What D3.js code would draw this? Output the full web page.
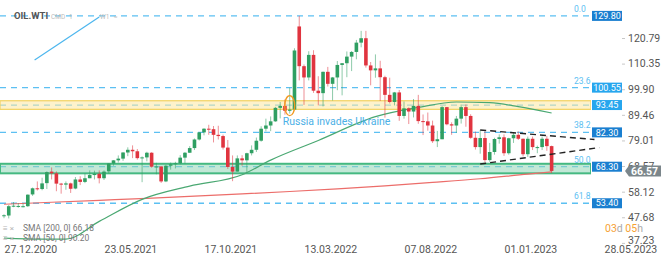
<!DOCTYPE html>
<html>
<head>
<meta charset="utf-8">
<script src="https://cdn.jsdelivr.net/npm/d3@7"></script>
<style>
  body { margin: 0; background: #fff; }
  svg { display: block; font-family: Roboto, sans-serif; }
</style>
</head>
<body>
<div id="chart"></div>
<script>
// weekly candles: date, open, high, low, close
const candles = [
  ['2020-12-27', 48.3, 48.9, 47.3, 48.5], ['2021-01-03', 48.4, 52.7, 47.2, 52.2],
  ['2021-01-10', 52.2, 53.9, 51.8, 52.4], ['2021-01-17', 52.3, 53.5, 51.6, 52.3],
  ['2021-01-24', 52.2, 53.3, 51.7, 52.2], ['2021-01-31', 52.2, 57.0, 51.9, 56.9],
  ['2021-02-07', 57.0, 59.8, 56.4, 59.5], ['2021-02-14', 59.5, 62.3, 58.6, 59.2],
  ['2021-02-21', 59.2, 63.8, 58.7, 61.5], ['2021-02-28', 61.6, 66.4, 59.2, 66.1],
  ['2021-03-07', 66.3, 68.0, 63.1, 65.6], ['2021-03-14', 65.6, 66.4, 58.3, 61.4],
  ['2021-03-21', 61.4, 61.7, 57.3, 61.0], ['2021-03-28', 61.0, 62.3, 58.9, 61.5],
  ['2021-04-04', 61.5, 61.8, 57.6, 59.3], ['2021-04-11', 59.4, 64.1, 59.1, 63.1],
  ['2021-04-18', 63.1, 64.4, 60.8, 62.1], ['2021-04-25', 62.1, 65.5, 61.6, 63.6],
  ['2021-05-02', 63.6, 66.8, 63.6, 64.9], ['2021-05-09', 64.9, 66.7, 63.1, 65.4],
  ['2021-05-16', 65.4, 66.8, 61.5, 63.6], ['2021-05-23', 63.6, 66.8, 62.9, 66.3],
  ['2021-05-30', 66.4, 69.8, 65.6, 69.6], ['2021-06-06', 69.6, 71.0, 68.7, 70.9],
  ['2021-06-13', 70.9, 72.9, 70.0, 71.6], ['2021-06-20', 71.6, 74.2, 70.7, 74.1],
  ['2021-06-27', 74.1, 76.2, 72.6, 75.2], ['2021-07-04', 75.2, 77.0, 71.8, 74.6],
  ['2021-07-11', 74.6, 75.5, 71.2, 71.8], ['2021-07-18', 71.8, 72.5, 62.0, 72.1],
  ['2021-07-25', 72.1, 74.4, 70.5, 74.0], ['2021-08-01', 74.0, 74.2, 67.9, 68.3],
  ['2021-08-08', 68.3, 69.9, 65.2, 68.4], ['2021-08-15', 68.4, 68.5, 61.7, 62.3],
  ['2021-08-22', 62.3, 69.1, 62.0, 68.7], ['2021-08-29', 68.7, 70.0, 67.1, 69.3],
  ['2021-09-05', 69.3, 70.3, 67.6, 69.7], ['2021-09-12', 69.7, 73.0, 69.3, 72.0],
  ['2021-09-19', 72.0, 74.3, 69.6, 74.0], ['2021-09-26', 74.0, 76.7, 73.9, 75.9],
  ['2021-10-03', 75.9, 79.8, 75.1, 79.4], ['2021-10-10', 79.4, 82.4, 79.0, 82.3],
  ['2021-10-17', 82.3, 84.0, 81.1, 83.8], ['2021-10-24', 83.8, 85.4, 81.3, 83.6],
  ['2021-10-31', 83.6, 84.9, 78.2, 81.3], ['2021-11-07', 81.3, 85.0, 79.4, 80.8],
  ['2021-11-14', 80.8, 81.4, 75.3, 76.1], ['2021-11-21', 76.1, 79.2, 67.4, 68.2],
  ['2021-11-28', 68.2, 72.9, 62.4, 66.3], ['2021-12-05', 66.3, 72.9, 66.3, 71.7],
  ['2021-12-12', 71.7, 73.0, 68.7, 70.9], ['2021-12-19', 70.9, 74.0, 66.0, 73.8],
  ['2021-12-26', 73.8, 77.0, 72.9, 75.2], ['2022-01-02', 75.2, 80.2, 74.3, 78.9],
  ['2022-01-09', 78.9, 84.8, 78.5, 83.8], ['2022-01-16', 83.8, 87.9, 82.7, 85.1],
  ['2022-01-23', 85.1, 88.8, 82.8, 86.8], ['2022-01-30', 86.8, 92.7, 86.6, 92.3],
  ['2022-02-06', 92.3, 94.7, 88.0, 93.1], ['2022-02-13', 93.1, 95.8, 89.5, 91.1],
  ['2022-02-20', 91.1, 100.5, 90.0, 91.6], ['2022-02-27', 91.6, 116.6, 91.5, 115.7],
  ['2022-03-06', 125.5, 129.8, 103.5, 109.3], ['2022-03-13', 109.3, 110.0, 93.5, 104.7],
  ['2022-03-20', 104.7, 115.4, 103.5, 113.9], ['2022-03-27', 113.9, 115.8, 98.4, 99.3],
  ['2022-04-03', 99.3, 105.2, 93.3, 98.3], ['2022-04-10', 98.3, 107.1, 92.9, 107.0],
  ['2022-04-17', 107.0, 109.0, 101.0, 102.1], ['2022-04-24', 102.1, 104.9, 95.3, 104.7],
  ['2022-05-01', 104.7, 111.4, 99.5, 109.8], ['2022-05-08', 109.8, 110.6, 97.4, 110.5],
  ['2022-05-15', 110.5, 115.3, 104.8, 113.2], ['2022-05-22', 113.2, 115.5, 107.3, 115.1],
  ['2022-05-29', 115.1, 120.0, 112.1, 118.9], ['2022-06-05', 118.9, 123.7, 117.0, 120.7],
  ['2022-06-12', 120.7, 123.7, 108.7, 109.6], ['2022-06-19', 109.6, 111.0, 101.5, 107.6],
  ['2022-06-26', 107.6, 114.1, 104.6, 108.4], ['2022-07-03', 108.4, 111.5, 95.1, 104.8],
  ['2022-07-10', 104.8, 105.4, 88.3, 97.6], ['2022-07-17', 97.6, 104.6, 94.1, 94.7],
  ['2022-07-24', 94.7, 98.8, 93.3, 98.6], ['2022-07-31', 98.6, 99.6, 87.0, 89.0],
  ['2022-08-07', 89.0, 94.9, 87.9, 92.1], ['2022-08-14', 92.1, 92.5, 85.7, 90.8],
  ['2022-08-21', 90.8, 95.9, 88.4, 93.1], ['2022-08-28', 93.1, 97.6, 85.8, 86.9],
  ['2022-09-04', 86.9, 89.6, 81.2, 86.8], ['2022-09-11', 86.8, 90.4, 83.0, 85.1],
  ['2022-09-18', 85.1, 87.1, 78.0, 78.7], ['2022-09-25', 78.7, 82.9, 76.3, 79.5],
  ['2022-10-02', 79.5, 93.0, 79.5, 92.6], ['2022-10-09', 92.6, 92.6, 85.2, 85.6],
  ['2022-10-16', 85.6, 86.4, 81.3, 85.1], ['2022-10-23', 85.1, 89.0, 82.1, 87.9],
  ['2022-10-30', 87.9, 93.7, 85.9, 92.6], ['2022-11-06', 92.6, 93.7, 84.6, 89.0],
  ['2022-11-13', 89.0, 89.7, 79.7, 80.1], ['2022-11-20', 80.1, 82.6, 75.3, 76.3],
  ['2022-11-27', 76.3, 83.3, 73.6, 80.0], ['2022-12-04', 80.0, 82.7, 70.1, 71.0],
  ['2022-12-11', 71.0, 78.0, 70.3, 74.3], ['2022-12-18', 74.3, 80.1, 73.2, 79.6],
  ['2022-12-25', 79.6, 81.5, 77.7, 80.3], ['2023-01-01', 80.3, 81.5, 72.7, 73.8],
  ['2023-01-08', 73.8, 80.1, 73.2, 79.9], ['2023-01-15', 79.9, 82.4, 78.0, 81.3],
  ['2023-01-22', 81.3, 82.7, 79.2, 79.7], ['2023-01-29', 79.7, 79.8, 72.5, 73.4],
  ['2023-02-05', 73.4, 80.6, 72.3, 79.7], ['2023-02-12', 79.7, 80.6, 75.1, 76.3],
  ['2023-02-19', 76.3, 76.9, 73.8, 76.3], ['2023-02-26', 76.3, 80.6, 75.1, 79.7],
  ['2023-03-05', 79.7, 80.9, 74.8, 76.7], ['2023-03-12', 76.7, 76.9, 65.7, 66.57],
]

// moving averages
const sma200Dates = ['2020-12-27', '2021-03-07', '2021-05-16', '2021-07-25', '2021-10-03',
  '2021-12-12', '2022-02-20', '2022-05-01', '2022-07-10', '2022-09-18', '2022-11-27',
  '2023-02-05', '2023-03-12']
const sma200 = [53.0, 53.8, 54.6, 55.4, 56.3, 57.2, 58.2, 59.3, 60.5, 61.9, 63.4, 65.3, 66.18]
const sma50Dates = ['2020-12-27', '2021-02-21', '2021-03-28', '2021-05-16', '2021-07-18',
  '2021-09-26', '2021-12-12', '2022-01-23', '2022-04-03', '2022-06-26', '2022-08-28',
  '2022-10-23', '2022-12-11', '2023-01-22', '2023-03-12']
const sma50 = [39.2, 38.8, 38.8, 46.0, 55.0, 60.4, 65.0, 71.0, 79.0, 88.7, 92.5, 94.7, 94.4, 92.8, 90.2]

const levels = [129.80, 100.55, 93.45, 82.30, 68.30, 53.40]
const levelFib = ['0.0', '23.6', '', '38.2', '50.0', '61.8']
const levelBadge = ['#1a7fd0', '#26a6ee', '#26a6ee', '#1a7fd0', '#1a7fd0', '#1a7fd0']
const yellowZone = [91.7, 95.2]
const greenZone = [65.6, 69.5]

// drawings on the chart
const triUpper = [['2022-11-27', 83.3], ['2023-05-14', 79.4]]
const triLower = [['2022-11-27', 69.4], ['2023-05-21', 76.1]]
const blueTrend = [['2021-02-10', 111.8], ['2021-05-16', 129.4]]

const yTicks = [37.23, 47.68, 58.12, 68.57, 79.01, 89.46, 99.90, 110.35, 120.79]
const xTicks = ['2020-12-27', '2021-05-23', '2021-10-17', '2022-03-13', '2022-08-07', '2023-01-01', '2023-05-28']
const lastPrice = 66.57
const smaLegend = ['SMA [200, 0] 66.18', 'SMA [50, 0] 90.20']

const width = 670
const height = 261
const plotRight = 591
const parse = d3.timeParse('%Y-%m-%d')

const svg = d3.select('#chart').append('svg').attr('width', width).attr('height', height)

const x = d3.scaleTime().domain([parse('2020-12-27'), parse('2023-05-28')]).range([4, 604])
const y = d3.scaleLinear().domain([37.23, 120.79]).range([242.9, 38])

svg.append('clipPath').attr('id', 'clip')
  .append('rect').attr('x', 0).attr('y', 0).attr('width', plotRight).attr('height', 244)

const plot = svg.append('g').attr('clip-path', 'url(#clip)')

// horizontal dashed levels
plot.selectAll('line.level').data(levels).enter().append('line')
  .attr('class', 'level')
  .attr('x1', 0).attr('x2', plotRight)
  .attr('y1', (d) => y(d)).attr('y2', (d) => y(d))
  .attr('stroke', '#5cc0f2').attr('stroke-width', 1.3).attr('stroke-dasharray', '6,5')

// zones
plot.append('rect')
  .attr('x', 0).attr('width', plotRight)
  .attr('y', y(yellowZone[1])).attr('height', y(yellowZone[0]) - y(yellowZone[1]))
  .attr('fill', '#fbe7a2').attr('fill-opacity', 0.55)
  .attr('stroke', '#f3d260').attr('stroke-width', 1.2)
plot.append('rect')
  .attr('x', 0).attr('width', plotRight)
  .attr('y', y(greenZone[1])).attr('height', y(greenZone[0]) - y(greenZone[1]))
  .attr('fill', '#8fd6b6').attr('fill-opacity', 0.55)
  .attr('stroke', '#45b981').attr('stroke-width', 2)

// moving averages
const smaLine = d3.line().x((d) => x(parse(d[0]))).y((d) => y(d[1])).curve(d3.curveMonotoneX)
plot.append('path')
  .attr('d', smaLine(d3.zip(sma200Dates, sma200)))
  .attr('fill', 'none').attr('stroke', '#ec6d6a').attr('stroke-width', 1.2)
plot.append('path')
  .attr('d', smaLine(d3.zip(sma50Dates, sma50)))
  .attr('fill', 'none').attr('stroke', '#4aa872').attr('stroke-width', 1.2)

// candles
const up = '#2f9f62'
const down = '#e0343f'
const bw = 3.6
const c = plot.selectAll('g.candle').data(candles).enter().append('g')
c.append('line')
  .attr('x1', (d) => x(parse(d[0]))).attr('x2', (d) => x(parse(d[0])))
  .attr('y1', (d) => y(d[2])).attr('y2', (d) => y(d[3]))
  .attr('stroke', (d) => (d[4] >= d[1] ? up : down)).attr('stroke-opacity', 0.55)
c.append('rect')
  .attr('x', (d) => x(parse(d[0])) - bw / 2).attr('width', bw)
  .attr('y', (d) => y(Math.max(d[1], d[4])))
  .attr('height', (d) => Math.max(1, Math.abs(y(d[1]) - y(d[4]))))
  .attr('fill', (d) => (d[4] >= d[1] ? up : down))

// triangle and trendline
const trend = d3.line().x((d) => x(parse(d[0]))).y((d) => y(d[1]))
;[triUpper, triLower].forEach((t) => {
  svg.append('path').attr('d', trend(t))
    .attr('stroke', '#222').attr('stroke-width', 1.4).attr('stroke-dasharray', '6,4').attr('fill', 'none')
})
plot.append('path').attr('d', trend(blueTrend))
  .attr('stroke', '#4cb6ee').attr('stroke-width', 1.2).attr('fill', 'none')

// invasion marker
const invasion = parse('2022-02-20')
svg.append('ellipse')
  .attr('cx', x(invasion)).attr('cy', y(93.2)).attr('rx', 5).attr('ry', 10)
  .attr('fill', 'none').attr('stroke', '#f29a22').attr('stroke-width', 1.4)
svg.append('text')
  .attr('x', x(invasion) - 7).attr('y', y(93.2) + 19)
  .attr('fill', '#4cb0e6').attr('font-size', 10.5)
  .text('Russia invades Ukraine')

// fib labels
svg.selectAll('text.fib').data(levels).enter().append('text')
  .attr('class', 'fib')
  .attr('x', 574).attr('y', (d) => y(d) - 4)
  .attr('fill', '#5cc0f2').attr('font-size', 8.5)
  .text((d, i) => levelFib[i])

// level badges
const badge = svg.selectAll('g.badge').data(levels).enter().append('g')
badge.append('rect')
  .attr('x', 592).attr('width', 30)
  .attr('y', (d) => y(d) - 5).attr('height', 10)
  .attr('fill', (d, i) => levelBadge[i])
badge.append('text')
  .attr('x', 607).attr('y', (d) => y(d))
  .attr('dy', '0.35em').attr('text-anchor', 'middle')
  .attr('fill', '#fff').attr('font-size', 9)
  .text((d) => d.toFixed(2))

// price axis
const yAxis = svg.append('g')
  .attr('transform', 'translate(622,0)')
  .call(d3.axisRight(y).tickValues(yTicks).tickSize(3).tickPadding(3).tickFormat(d3.format('.2f')))
yAxis.select('.domain').remove()
yAxis.selectAll('line').attr('stroke', '#c8c8c8')
yAxis.selectAll('text').attr('fill', '#555').attr('font-size', 10.5).attr('font-family', 'Roboto, sans-serif')
yAxis.selectAll('.tick').filter((d) => d === yTicks[0]).select('text').attr('y', -3)

// current price tag
const ly = y(lastPrice)
svg.append('path')
  .attr('d', `M625,${ly} L629,${ly - 5.5} L661,${ly - 5.5} L661,${ly + 5.5} L629,${ly + 5.5} Z`)
  .attr('fill', '#7b868b')
svg.append('text')
  .attr('x', 631).attr('y', ly).attr('dy', '0.36em')
  .attr('fill', '#fff').attr('font-size', 10.5).attr('font-weight', 'bold')
  .text(lastPrice.toFixed(2))

// date axis
const xAxis = svg.append('g')
  .attr('transform', 'translate(0,244)')
  .call(d3.axisBottom(x).tickValues(xTicks.map(parse)).tickSize(0).tickPadding(2).tickFormat(d3.timeFormat('%d.%m.%Y')))
xAxis.select('.domain').remove()
xAxis.selectAll('text').attr('text-anchor', 'start').attr('fill', '#555').attr('font-size', 10.5)
  .attr('font-family', 'Roboto, sans-serif')

// countdown
const cd = svg.append('text').attr('x', 605).attr('y', 232).attr('font-size', 10.5)
cd.append('tspan').attr('fill', '#f6a133').text('03')
cd.append('tspan').attr('fill', '#aaa').text('d ')
cd.append('tspan').attr('fill', '#f6a133').text('05')
cd.append('tspan').attr('fill', '#aaa').text('h')

// sma legend
smaLegend.forEach((t, i) => {
  const g = svg.append('g').attr('transform', `translate(3,${231 + i * 10})`)
  g.append('text').attr('font-size', 8).attr('fill', '#b5b5b5').text('≡ ×')
  g.append('text').attr('x', 20).attr('font-size', 8.5).attr('fill', '#777').text(t)
})

// title
svg.append('text').attr('x', 14).attr('y', 19).attr('font-size', 9.5).attr('font-weight', 'bold')
  .attr('fill', '#555').text('OIL.WTI')
svg.append('text').attr('x', 51).attr('y', 19).attr('font-size', 6.5).attr('fill', '#bbb').text('CMD')
svg.append('text').attr('x', 69).attr('y', 19).attr('font-size', 6.5).attr('fill', '#bbb').text('1')
svg.append('text').attr('x', 100).attr('y', 19).attr('font-size', 6.5).attr('fill', '#bbb').text('W1')
svg.append('text').attr('x', 114).attr('y', 19).attr('font-size', 6.5).attr('fill', '#bbb').text('≈')
</script>
</body>
</html>
